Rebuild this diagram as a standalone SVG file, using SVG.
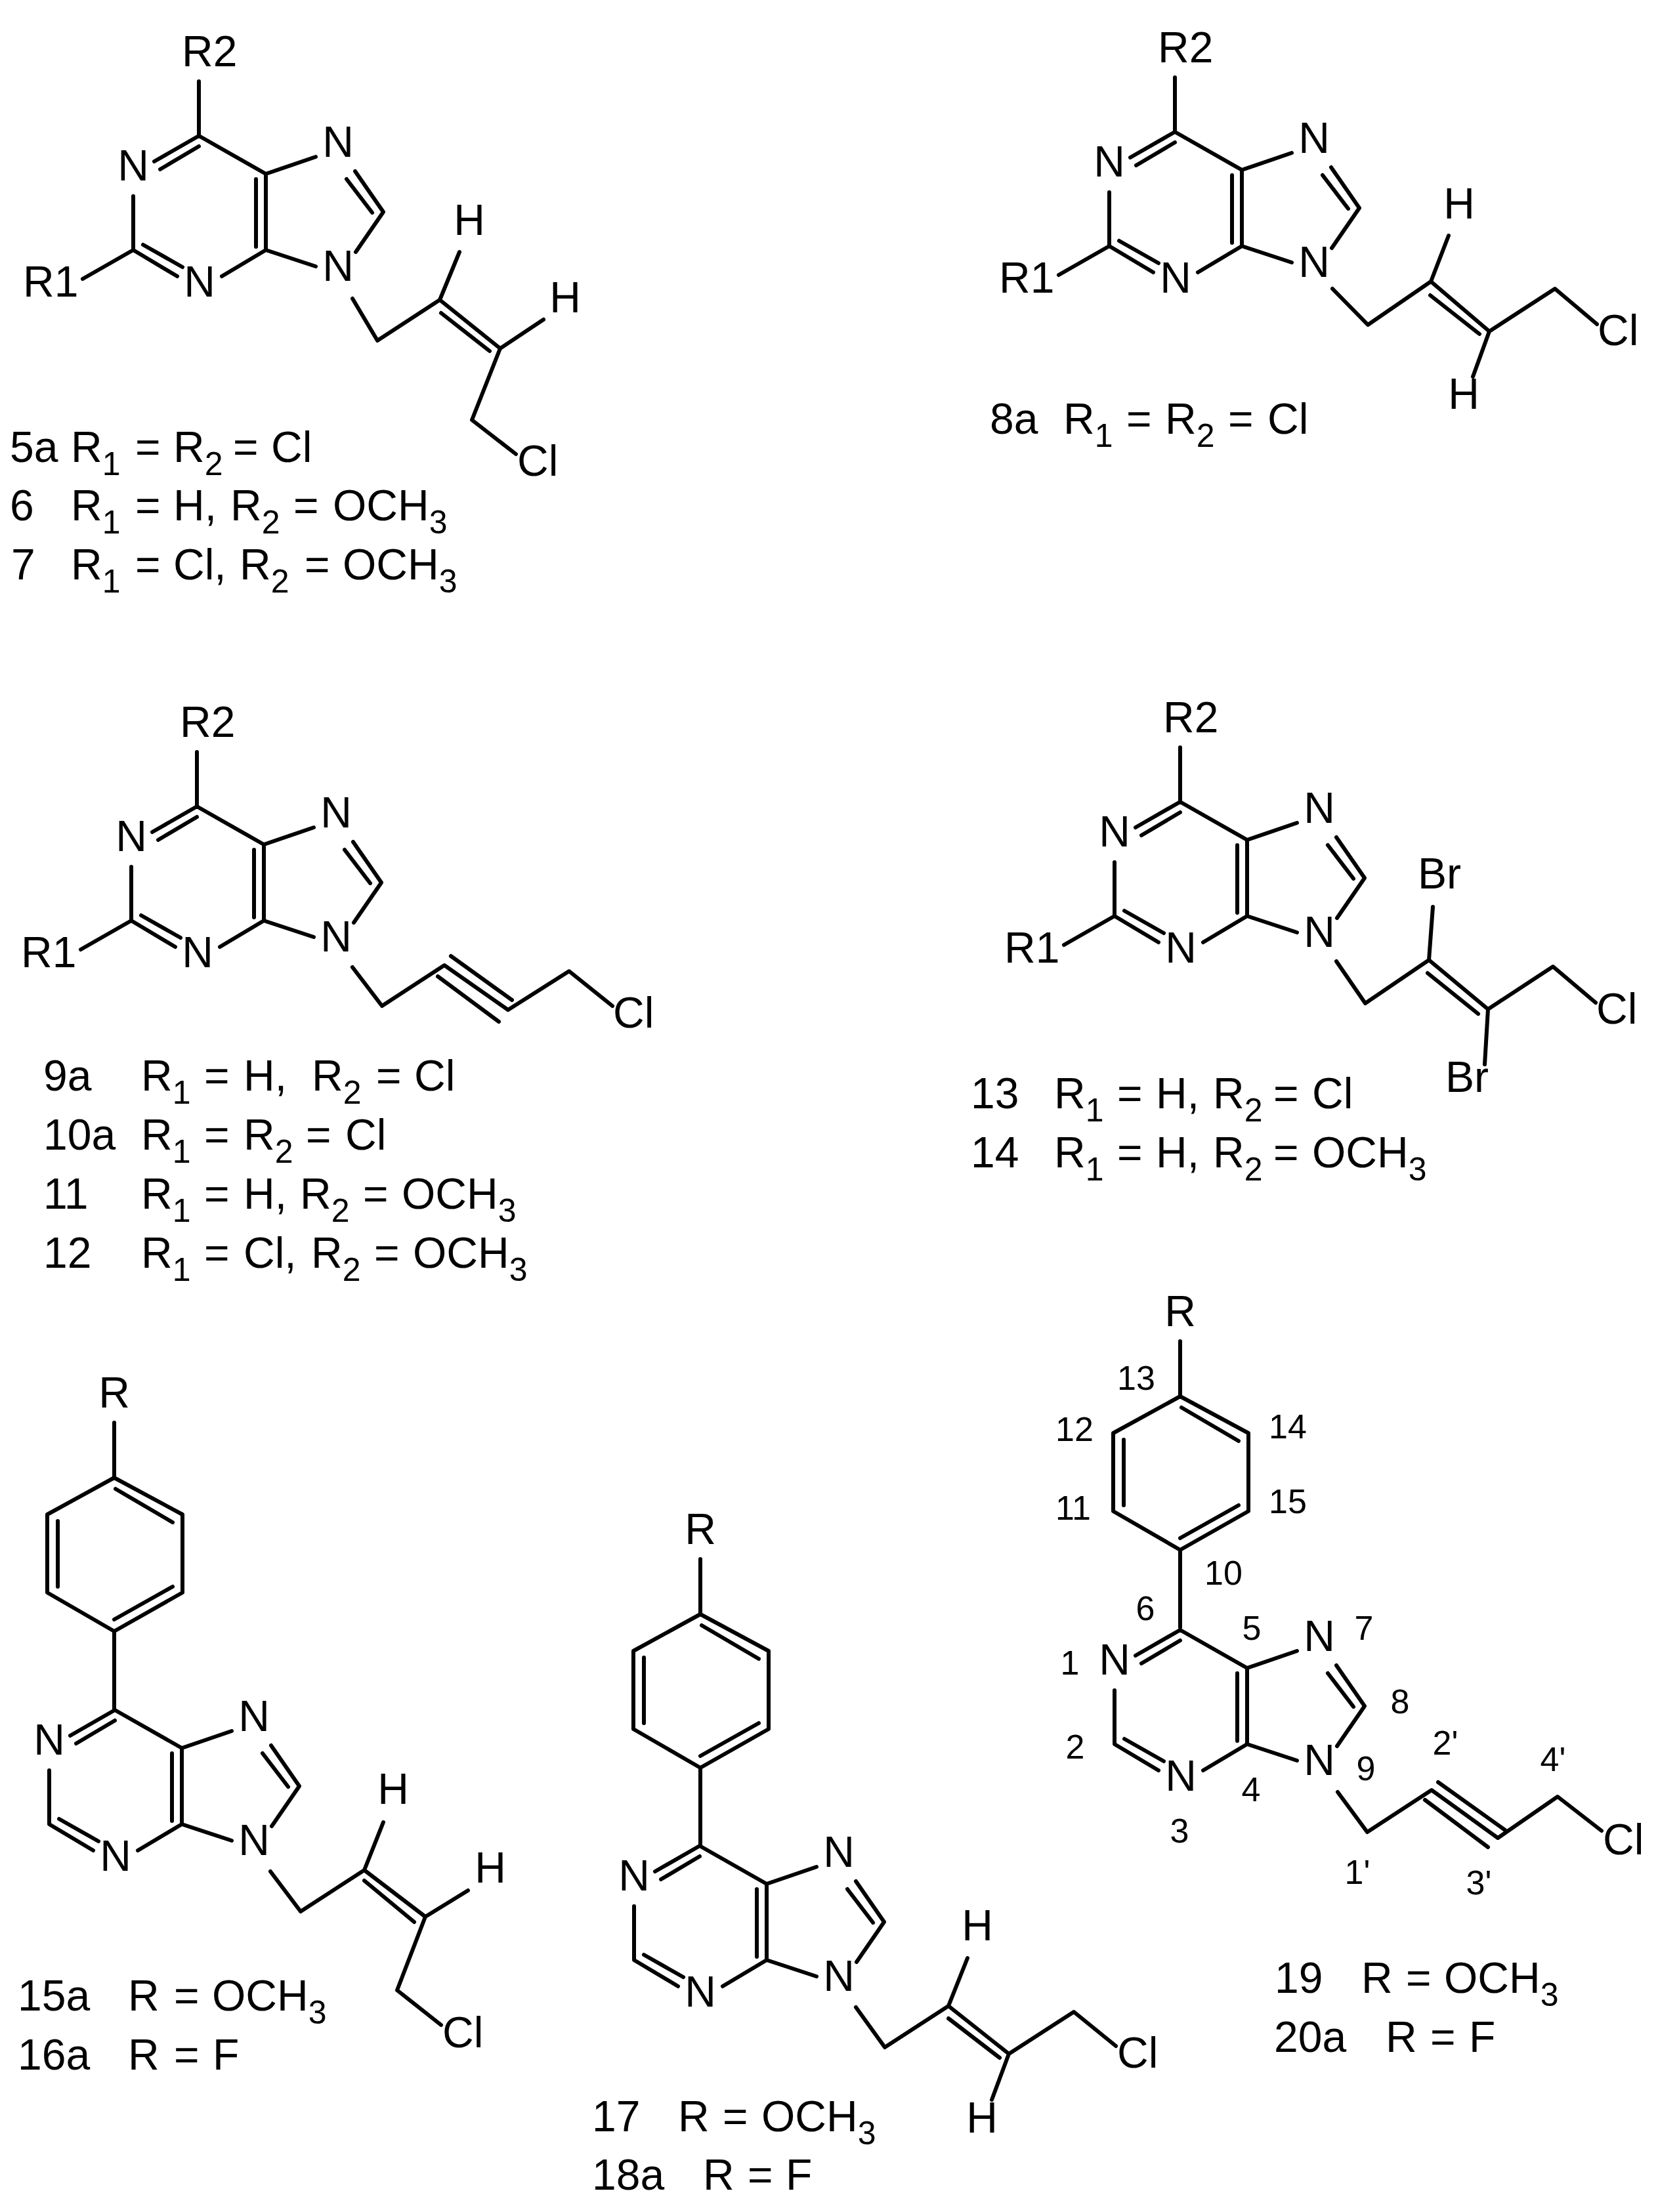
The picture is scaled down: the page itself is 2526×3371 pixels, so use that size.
<svg xmlns="http://www.w3.org/2000/svg" xmlns:xlink="http://www.w3.org/1999/xlink" width="2526" height="3371" viewBox="0 0 2526 3371">
<style>
text{font-family:"Liberation Sans",Arial,sans-serif;fill:#000}
.a{font-size:66px}
.c{font-size:66px;text-anchor:middle}
.t{font-size:66px}
.s{font-size:50px}
.n{font-size:52px;text-anchor:middle}
.b{fill:none;stroke:#000;stroke-width:6;stroke-linecap:round;stroke-linejoin:round}
</style>
<defs>
<g id="ring">
<path class="b" d="M235 246L303 207L405 265L481 239M244 258L303 223M405 265V381M390 273V376M481 406L405 381L338 421M541 261L584 323L542 384M528 273L567 324M203 299V381L270 421M218 373L278 407"/>
<text class="c" x="203" y="275">N</text>
<text class="c" x="304" y="452">N</text>
<text class="c" x="515" y="239">N</text>
<text class="c" x="515" y="428">N</text>
</g>
<g id="rgroups">
<path class="b" d="M303 207V124M203 381L126 425"/>
<text class="a" x="277" y="101">R2</text>
<text class="a" x="35" y="452">R1</text>
</g>
<g id="phenyl">
<path class="b" d="M303 207V89L201 30V-89L303 -145L407 -89V30L303 89M303 -145V-229M305 -128L392 -77M217 -79V21M303 71L392 21"/>
<text class="c" x="303" y="-252">R</text>
</g>
</defs>

<g id="mol-5a">
<use href="#ring"/><use href="#rgroups"/>
<path class="b" d="M537 455L575 519L670 457L762 531L719 640L786 692M672 477L746 535M670 457L700 384M762 531L828 487"/>
<text class="c" x="715" y="358">H</text>
<text class="c" x="861" y="476">H</text>
<text class="a" x="788" y="725">Cl</text>
<text class="t" y="704"><tspan x="15">5a</tspan><tspan x="108">R</tspan><tspan class="s" dy="20">1</tspan><tspan x="206" dy="-20">=</tspan><tspan x="264">R</tspan><tspan class="s" dy="20">2</tspan><tspan x="355" dy="-20">=</tspan><tspan x="413">Cl</tspan></text>
<text class="t" y="793"><tspan x="15">6</tspan><tspan x="108">R</tspan><tspan class="s" dy="20">1</tspan><tspan x="206" dy="-20">=</tspan><tspan x="264">H,</tspan><tspan x="351">R</tspan><tspan class="s" dy="20">2</tspan><tspan x="447" dy="-20">=</tspan><tspan x="507">OCH</tspan><tspan class="s" dy="20">3</tspan></text>
<text class="t" y="883"><tspan x="17">7</tspan><tspan x="108">R</tspan><tspan class="s" dy="20">1</tspan><tspan x="206" dy="-20">=</tspan><tspan x="264">Cl,</tspan><tspan x="365">R</tspan><tspan class="s" dy="20">2</tspan><tspan x="464" dy="-20">=</tspan><tspan x="522">OCH</tspan><tspan class="s" dy="20">3</tspan></text>
</g>

<g id="mol-8a">
<use href="#ring" transform="translate(1487,-6)"/><use href="#rgroups" transform="translate(1487,-6)"/>
<path class="b" d="M2030 440L2084 495L2180 429L2269 505L2369 440L2433 494M2179 450L2254 509M2180 429L2207 359M2269 505L2244 574"/>
<text class="c" x="2223" y="333">H</text>
<text class="c" x="2230" y="623">H</text>
<text class="a" x="2434" y="526">Cl</text>
<text class="t" y="661"><tspan x="1508">8a</tspan><tspan x="1620">R</tspan><tspan class="s" dy="20">1</tspan><tspan x="1716" dy="-20">=</tspan><tspan x="1775">R</tspan><tspan class="s" dy="20">2</tspan><tspan x="1871" dy="-20">=</tspan><tspan x="1931">Cl</tspan></text>
</g>

<g id="mol-9a">
<use href="#ring" transform="translate(-3,1022)"/><use href="#rgroups" transform="translate(-3,1022)"/>
<path class="b" d="M537 1474L582 1533L677 1471L774 1539L867 1480L933 1533M687 1457L780 1524M667 1488L760 1557"/>
<text class="a" x="934" y="1566">Cl</text>
<text class="t" y="1662"><tspan x="66">9a</tspan><tspan x="215">R</tspan><tspan class="s" dy="20">1</tspan><tspan x="311" dy="-20">=</tspan><tspan x="371">H,</tspan><tspan x="475">R</tspan><tspan class="s" dy="20">2</tspan><tspan x="573" dy="-20">=</tspan><tspan x="631">Cl</tspan></text>
<text class="t" y="1752"><tspan x="66">10a</tspan><tspan x="215">R</tspan><tspan class="s" dy="20">1</tspan><tspan x="311" dy="-20">=</tspan><tspan x="371">R</tspan><tspan class="s" dy="20">2</tspan><tspan x="466" dy="-20">=</tspan><tspan x="526">Cl</tspan></text>
<text class="t" y="1842"><tspan x="66">11</tspan><tspan x="215">R</tspan><tspan class="s" dy="20">1</tspan><tspan x="311" dy="-20">=</tspan><tspan x="371">H,</tspan><tspan x="457">R</tspan><tspan class="s" dy="20">2</tspan><tspan x="553" dy="-20">=</tspan><tspan x="612">OCH</tspan><tspan class="s" dy="20">3</tspan></text>
<text class="t" y="1932"><tspan x="66">12</tspan><tspan x="215">R</tspan><tspan class="s" dy="20">1</tspan><tspan x="311" dy="-20">=</tspan><tspan x="371">Cl,</tspan><tspan x="474">R</tspan><tspan class="s" dy="20">2</tspan><tspan x="570" dy="-20">=</tspan><tspan x="629">OCH</tspan><tspan class="s" dy="20">3</tspan></text>
</g>

<g id="mol-13">
<use href="#ring" transform="translate(1495,1015)"/><use href="#rgroups" transform="translate(1495,1015)"/>
<path class="b" d="M2036 1465L2080 1529L2177 1463L2267 1538L2366 1473L2431 1528M2175 1483L2252 1545M2177 1463L2183 1382M2267 1538L2262 1622"/>
<text class="a" x="2160" y="1354">Br</text>
<text class="a" x="2202" y="1664">Br</text>
<text class="a" x="2432" y="1560">Cl</text>
<text class="t" y="1689"><tspan x="1479">13</tspan><tspan x="1606">R</tspan><tspan class="s" dy="20">1</tspan><tspan x="1702" dy="-20">=</tspan><tspan x="1761">H,</tspan><tspan x="1848">R</tspan><tspan class="s" dy="20">2</tspan><tspan x="1940" dy="-20">=</tspan><tspan x="1999">Cl</tspan></text>
<text class="t" y="1779"><tspan x="1479">14</tspan><tspan x="1606">R</tspan><tspan class="s" dy="20">1</tspan><tspan x="1702" dy="-20">=</tspan><tspan x="1761">H,</tspan><tspan x="1848">R</tspan><tspan class="s" dy="20">2</tspan><tspan x="1940" dy="-20">=</tspan><tspan x="1999">OCH</tspan><tspan class="s" dy="20">3</tspan></text>
</g>

<g id="mol-15a">
<use href="#ring" transform="translate(-128,2399)"/><use href="#phenyl" transform="translate(-129,2397)"/>
<path class="b" d="M412 2852L458 2913L555 2850L648 2921L605 3033L672 3086M555 2866L631 2929M555 2850L584 2777M648 2921L713 2881"/>
<text class="c" x="599" y="2749">H</text>
<text class="c" x="747" y="2869">H</text>
<text class="a" x="674" y="3120">Cl</text>
<text class="t" y="3064"><tspan x="27">15a</tspan><tspan x="195">R</tspan><tspan x="265">=</tspan><tspan x="323">OCH</tspan><tspan class="s" dy="20">3</tspan></text>
<text class="t" y="3154"><tspan x="27">16a</tspan><tspan x="195">R</tspan><tspan x="265">=</tspan><tspan x="324">F</tspan></text>
</g>

<g id="mol-17">
<use href="#ring" transform="translate(763,2606)"/><use href="#phenyl" transform="translate(764,2605)"/>
<path class="b" d="M1304 3059L1348 3120L1445 3057L1537 3130L1636 3066L1700 3118M1445 3076L1523 3136M1445 3057L1474 2984M1537 3130L1511 3200"/>
<text class="c" x="1489" y="2957">H</text>
<text class="c" x="1496" y="3250">H</text>
<text class="a" x="1702" y="3151">Cl</text>
<text class="t" y="3248"><tspan x="902">17</tspan><tspan x="1033">R</tspan><tspan x="1101">=</tspan><tspan x="1160">OCH</tspan><tspan class="s" dy="20">3</tspan></text>
<text class="t" y="3337"><tspan x="902">18a</tspan><tspan x="1071">R</tspan><tspan x="1139">=</tspan><tspan x="1197">F</tspan></text>
</g>

<g id="mol-19">
<use href="#ring" transform="translate(1495,2277)"/><use href="#phenyl" transform="translate(1495,2273)"/>
<path class="b" d="M2038 2731L2083 2792L2181 2728L2282 2801L2373 2738L2440 2790M2191 2716L2293 2789M2171 2743L2267 2815"/>
<text class="a" x="2442" y="2826">Cl</text>
<text class="n" x="1731" y="2118">13</text>
<text class="n" x="1637" y="2196">12</text>
<text class="n" x="1962" y="2192">14</text>
<text class="n" x="1635" y="2316">11</text>
<text class="n" x="1962" y="2306">15</text>
<text class="n" x="1864" y="2415">10</text>
<text class="n" x="1745" y="2469">6</text>
<text class="n" x="1907" y="2499">5</text>
<text class="n" x="1630" y="2552">1</text>
<text class="n" x="2078" y="2499">7</text>
<text class="n" x="2133" y="2611">8</text>
<text class="n" x="1638" y="2680">2</text>
<text class="n" x="2081" y="2713">9</text>
<text class="n" x="2202" y="2674">2'</text>
<text class="n" x="2366" y="2699">4'</text>
<text class="n" x="1906" y="2745">4</text>
<text class="n" x="1797" y="2808">3</text>
<text class="n" x="2068" y="2871">1'</text>
<text class="n" x="2253" y="2887">3'</text>
<text class="t" y="3037"><tspan x="1942">19</tspan><tspan x="2074">R</tspan><tspan x="2142">=</tspan><tspan x="2200">OCH</tspan><tspan class="s" dy="20">3</tspan></text>
<text class="t" y="3127"><tspan x="1941">20a</tspan><tspan x="2111">R</tspan><tspan x="2179">=</tspan><tspan x="2238">F</tspan></text>
</g>
</svg>
